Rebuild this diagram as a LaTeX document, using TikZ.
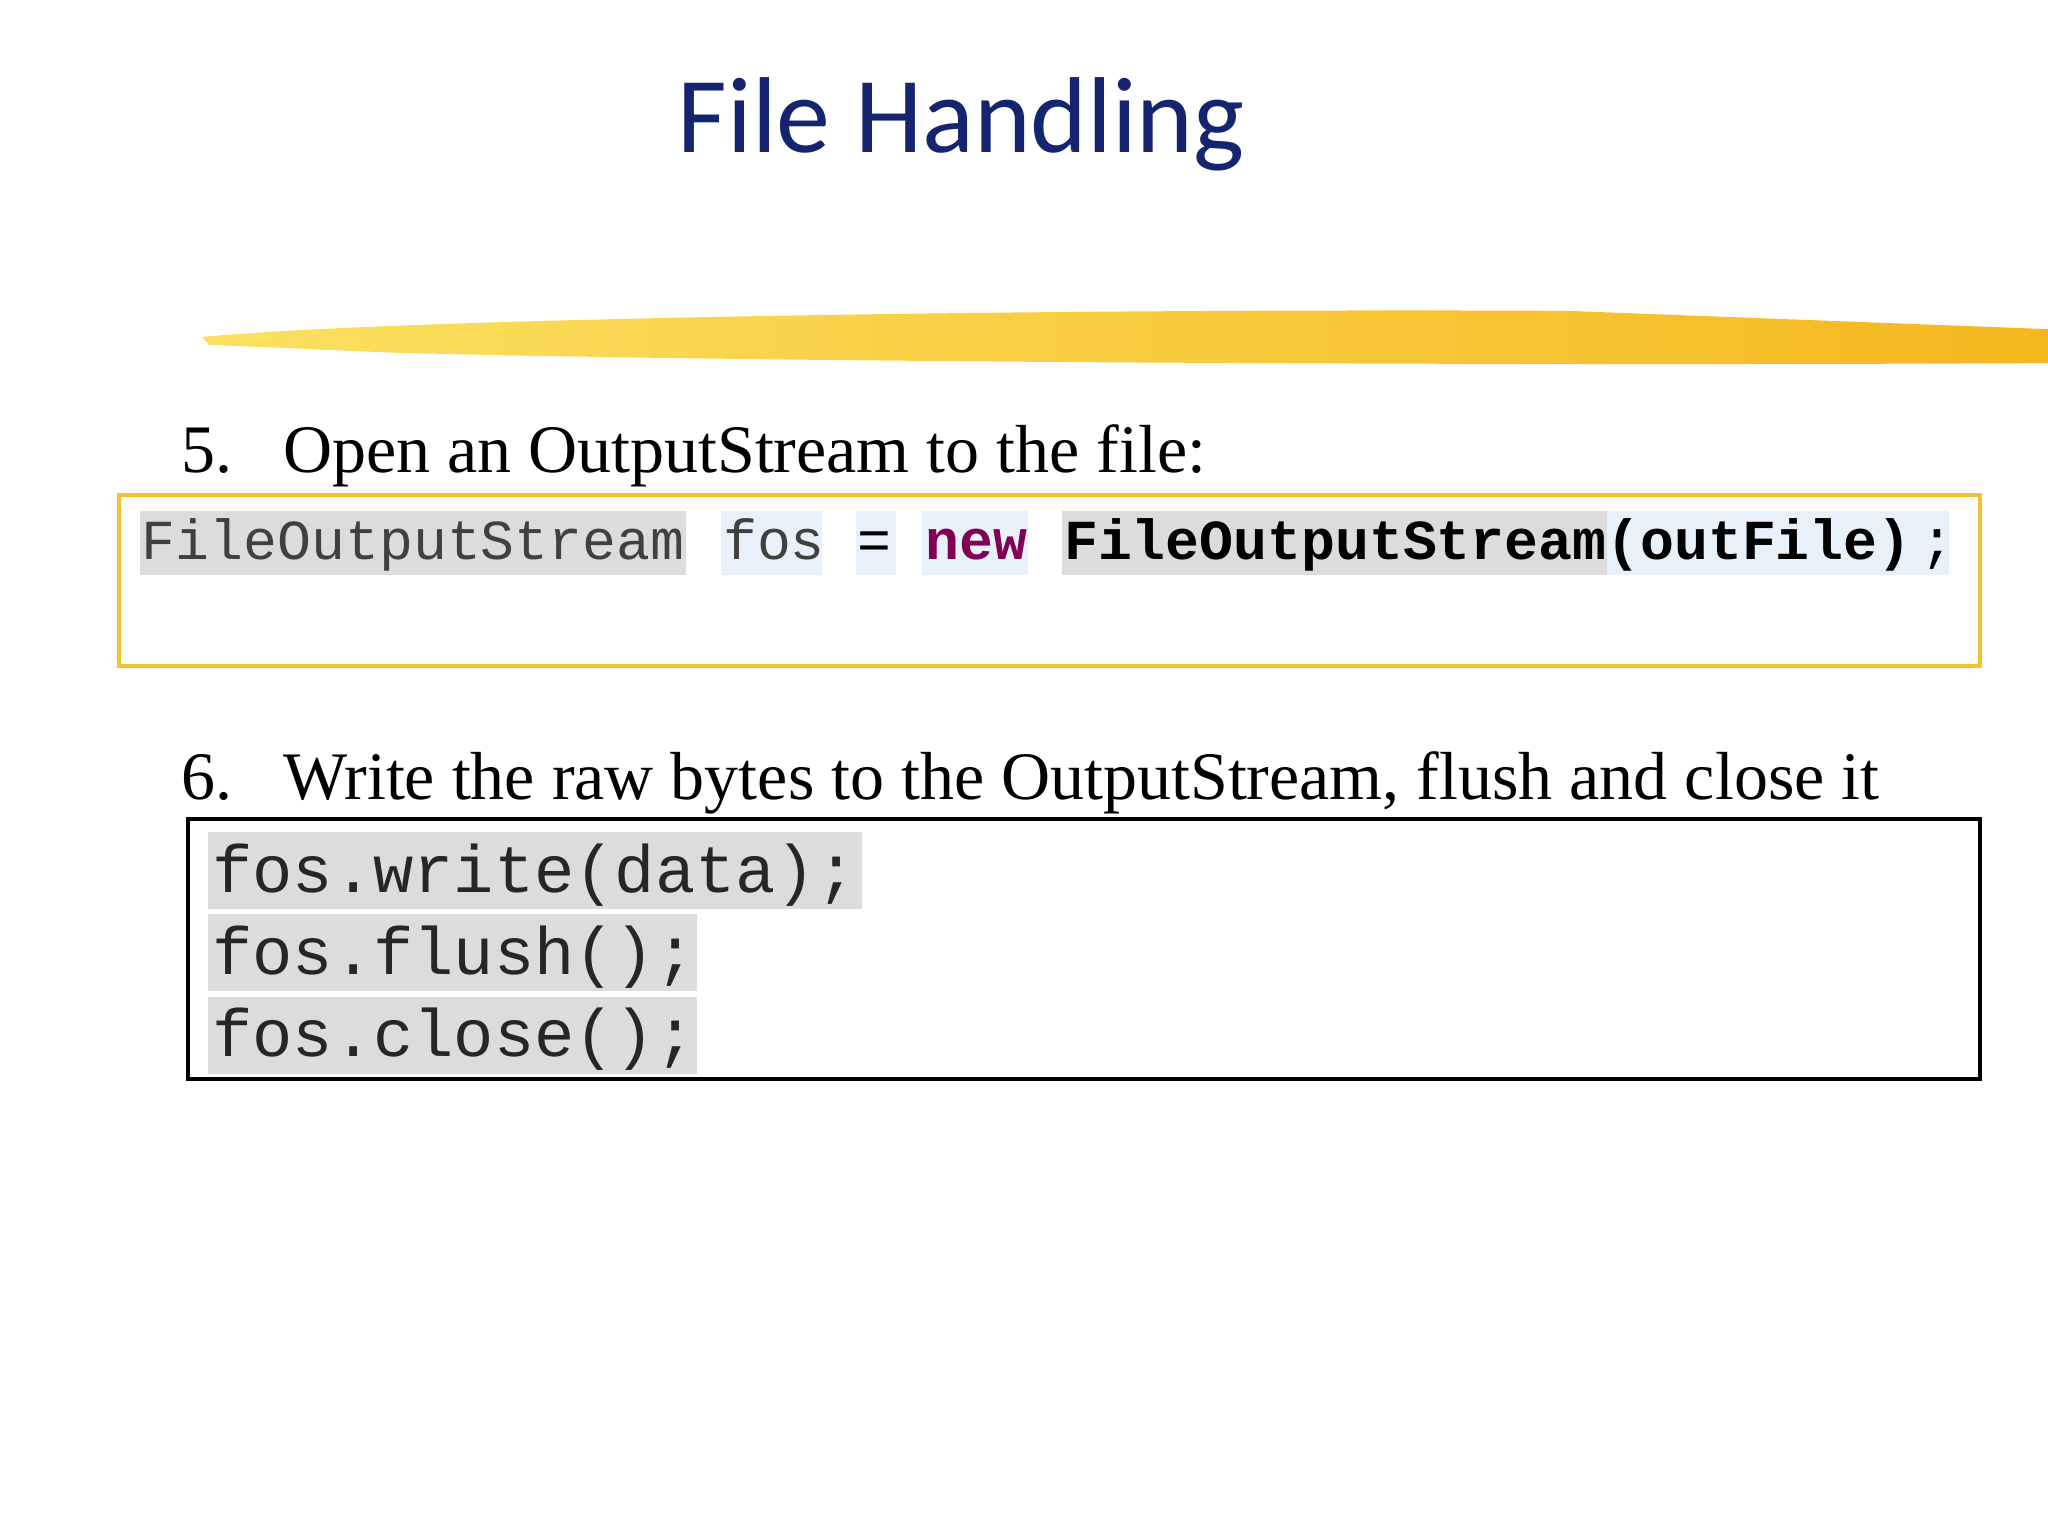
\documentclass[tikz,border=0pt]{standalone}
\usepackage{fontspec}
\setmainfont{Liberation Serif}
\newfontfamily\titlefont{Carlito}
\newfontfamily\codefont{Liberation Mono}
\definecolor{navy}{HTML}{14246E}
\definecolor{kw}{HTML}{7F0055}
\definecolor{hlgray}{HTML}{DCDCDC}
\definecolor{hlblue}{HTML}{E8F0FA}
\definecolor{boxyellow}{HTML}{F2C230}
\definecolor{brushA}{HTML}{FBE060}
\definecolor{brushB}{HTML}{F5B820}
\tikzset{
 hl/.style={fill=hlgray,draw=none},
 hb/.style={fill=hlblue,draw=none},
 code/.style={anchor=base west,inner sep=0pt,font=\codefont\fontsize{12.3}{14}\selectfont},
 codeb/.style={anchor=base west,inner sep=0pt,font=\codefont\fontsize{14.6}{17}\selectfont},
 body/.style={anchor=base west,inner sep=0pt,font=\fontsize{14.8}{18}\selectfont}
}
\begin{document}
\begin{tikzpicture}[x=0.01cm,y=-0.01cm]
\useasboundingbox (0,0) rectangle (1568,1176);
\node[anchor=base,font=\titlefont\fontsize{23.5}{28}\selectfont,text=navy] (title) at (736,117) {File Handling};
% brush stroke
\shade[left color=brushA,right color=brushB] (155,258) .. controls (300,244) and (800,236) .. (1200,238) -- (1568,252) -- (1568,278) .. controls (1200,280) and (600,278) .. (300,270) -- (160,264) -- cycle;
% step 5
\node[body] (s5n) at (138,362) {5.};
\node[body] (s5) at (216,362) {Open an OutputStream to the file:};
\draw[boxyellow,line width=0.9pt] (91,379) rectangle (1516,510);
\fill[hl] (107,391) rectangle (525,440);
\fill[hb] (552,391) rectangle (629,440);
\fill[hb] (655,391) rectangle (686,440);
\fill[hb] (706,391) rectangle (787,440);
\fill[hl] (813,391) rectangle (1230,440);
\fill[hb] (1230,391) rectangle (1492,440);
\node[code,text=black!75] (c1) at (108,428) {FileOutputStream};
\node[code,text=black!75] (c2) at (553,428) {fos};
\node[code] (c3) at (656,428) {=};
\node[code,text=kw,font=\codefont\bfseries\fontsize{12.3}{14}\selectfont] (c4) at (708,428) {new};
\node[code,font=\codefont\bfseries\fontsize{12.3}{14}\selectfont] (c5) at (814,428) {FileOutputStream(outFile)};
\node[code] (c6) at (1470,428) {;};
% step 6
\node[body] (s6n) at (138,612) {6.};
\node[body] (s6) at (216,612) {Write the raw bytes to the OutputStream, flush and close it};
\draw[black,line width=1pt] (144,627) rectangle (1516,826);
\fill[hl] (159,637) rectangle (660,696);
\fill[hl] (159,700) rectangle (534,759);
\fill[hl] (159,763) rectangle (534,822);
\node[codeb,text=black!85] (w1) at (162,683) {fos.write(data);};
\node[codeb,text=black!85] (w2) at (162,746) {fos.flush();};
\node[codeb,text=black!85] (w3) at (162,809) {fos.close();};
\end{tikzpicture}
\end{document}
